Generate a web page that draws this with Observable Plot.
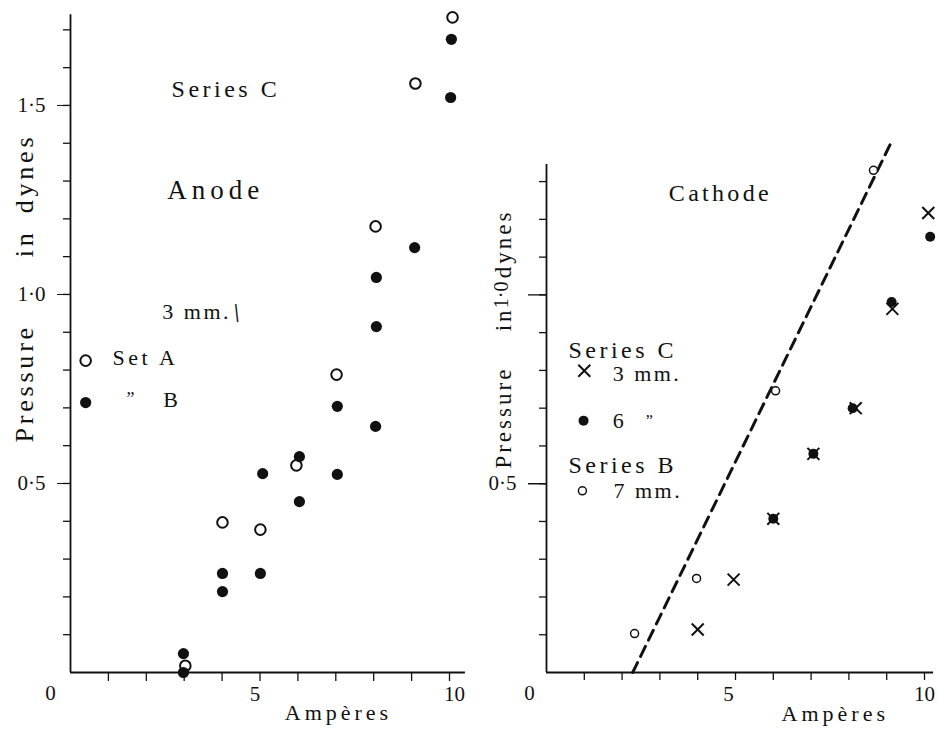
<!DOCTYPE html>
<html><head><meta charset="utf-8">
<script src="https://cdn.jsdelivr.net/npm/d3@7"></script>
<script src="https://cdn.jsdelivr.net/npm/@observablehq/plot@0.6"></script>
<style>
body{margin:0;background:#fff}
#wrap{position:relative;width:938px;height:730px;background:#fff}
#wrap svg{position:absolute;top:0}
</style></head><body><div id="wrap"></div>
<script>
// ---- Anode (Series C, 3 mm) ----
const anodeAmpsA = [10.08, 9.1, 8.05, 7.02, 5.96, 5.01, 4.01, 3.03];
const anodePressA = [1.733, 1.558, 1.18, 0.788, 0.548, 0.378, 0.397, 0.018];
const anodeAmpsB = [10.05, 10.03, 9.08, 8.07, 8.07, 7.04, 8.05, 7.04, 6.04, 6.04, 5.07, 5.01, 4.01, 4.01, 2.98, 2.98];
const anodePressB = [1.675, 1.521, 1.124, 1.045, 0.915, 0.704, 0.651, 0.524, 0.571, 0.452, 0.526, 0.262, 0.262, 0.214, 0.05, 0.0];
// ---- Cathode ----
const cathAmps3mm = [10.1, 9.15, 8.18, 7.06, 6.0, 4.95, 4.0];
const cathPress3mm = [1.217, 0.963, 0.70, 0.579, 0.407, 0.246, 0.114];
const cathAmps6mm = [10.15, 9.13, 8.1, 7.06, 6.0];
const cathPress6mm = [1.154, 0.981, 0.70, 0.579, 0.407];
const cathAmps7mm = [8.65, 6.06, 3.97, 2.33];
const cathPress7mm = [1.33, 0.746, 0.249, 0.103];
const dashAmps = [2.28, 9.1];
const dashPress = [0, 1.40];
// ---- tick labels ----
const xTickLabels = [5, 10];
const anodeYTickLabels = [0.5, 1.0, 1.5];
const cathYTickLabels = [0.5];
const xMinor = d3.range(1, 11);
const anodeYMinor = d3.range(1, 18).map(i => i / 10);
const cathYMinor = d3.range(1, 14).map(i => i / 10);

const ink = "#111";
const font = "'Liberation Serif', 'DejaVu Serif', serif";
const fmt = d => d.toFixed(1).replace(".", "·");
const pts = (xs, ys) => xs.map((x, i) => ({x, y: ys[i]}));

// annotation text (positions in data units, s = font size, ls = letter spacing)
const anodeNotes = [
  {t: "Series C", x: 4.1, y: 1.542, s: 24, ls: 3.5, a: "middle"},
  {t: "Anode", x: 3.83, y: 1.275, s: 27, ls: 5, a: "middle"},
  {t: "3 mm.", x: 3.33, y: 0.955, s: 22, ls: 2.5, a: "middle"},
  {t: "Set A", x: 1.11, y: 0.831, s: 22, ls: 3.5, a: "start"},
  {t: "\u201D", x: 1.58, y: 0.722, s: 18, ls: 0, a: "middle"},
  {t: "B", x: 2.64, y: 0.722, s: 22, ls: 0, a: "middle"},
  {t: "0", x: -0.53, y: -0.056, s: 21, ls: 0, a: "middle"},
  {t: "Ampères", x: 7.07, y: -0.108, s: 22, ls: 4, a: "middle"}
];
const anodeTitle = [
  {t: "Pressure", x: -1.21, y: 0.765},
  {t: "in", x: -1.21, y: 1.135},
  {t: "dynes", x: -1.21, y: 1.32}
];
const cathNotes = [
  {t: "Cathode", x: 4.6, y: 1.27, s: 24, ls: 3.3, a: "middle"},
  {t: "Series C", x: 0.58, y: 0.854, s: 24, ls: 3.5, a: "start"},
  {t: "3 mm.", x: 1.75, y: 0.791, s: 22, ls: 2.5, a: "start"},
  {t: "6", x: 1.9, y: 0.667, s: 22, ls: 0, a: "middle"},
  {t: "\u201D", x: 2.72, y: 0.667, s: 16, ls: 0, a: "middle"},
  {t: "Series B", x: 0.58, y: 0.55, s: 24, ls: 3.5, a: "start"},
  {t: "7 mm.", x: 1.77, y: 0.481, s: 22, ls: 2.5, a: "start"},
  {t: "0", x: -0.45, y: -0.056, s: 21, ls: 0, a: "middle"},
  {t: "Ampères", x: 7.64, y: -0.111, s: 22, ls: 4, a: "middle"}
];
const cathTitle = [
  {t: "Pressure", x: -1.14, y: 0.675},
  {t: "in", x: -1.14, y: 0.935},
  {t: "dynes", x: -1.14, y: 1.135}
];
const cathRotTick = [{t: "1·0", x: -1.2, y: 1.0}];

function notes(arr) {
  return ["start", "middle"].flatMap(a => {
    const d = arr.filter(n => n.a === a);
    return d3.groups(d, n => n.s).map(([s, g]) =>
      Plot.text(g, {x: "x", y: "y", text: "t", fontSize: s, textAnchor: a, fill: ink}));
  });
}
function spacing(svg, arr, titleWords, titleLs) {
  const m = new Map(arr.map(n => [n.t, n.ls]));
  titleWords.forEach(w => m.set(w.t, titleLs));
  d3.select(svg).selectAll("text").each(function () {
    const t = this.textContent;
    if (m.has(t)) this.setAttribute("letter-spacing", m.get(t));
  });
}
const xLabelAxis = (v, dx, size) =>
  Plot.axisX([v], {tickSize: 0, tickPadding: 14, label: null, fontSize: size, dx});

const left = Plot.plot({
  width: 480, height: 730,
  marginLeft: 70, marginRight: 31, marginTop: 18, marginBottom: 58,
  x: {domain: [0, 10]}, y: {domain: [0, 1.73]},
  style: {fontFamily: font, fontSize: "18px", color: ink, background: "transparent", overflow: "visible"},
  marks: [
    Plot.ruleX([0], {y1: 0, y2: 1.74, stroke: ink, strokeWidth: 1.8}),
    Plot.ruleY([0], {x1: 0, x2: 10.42, stroke: ink, strokeWidth: 1.8}),
    Plot.axisY(anodeYMinor, {tickSize: 7, tickFormat: () => "", label: null, strokeWidth: 1.3}),
    Plot.axisY(anodeYTickLabels, {tickSize: 13, tickPadding: 12, tickFormat: fmt, label: null, fontSize: 21}),
    Plot.axisX(xMinor, {tickSize: 9, tickFormat: () => "", label: null, strokeWidth: 1.3}),
    xLabelAxis(xTickLabels[0], -5, 21),
    xLabelAxis(xTickLabels[1], 5, 21),
    Plot.dot(pts(anodeAmpsA, anodePressA), {x: "x", y: "y", r: 5.3, stroke: ink, strokeWidth: 2, fill: "white"}),
    Plot.dot(pts(anodeAmpsB, anodePressB), {x: "x", y: "y", r: 5.6, fill: ink, stroke: "none"}),
    Plot.dot([{x: 0.4, y: 0.825}], {x: "x", y: "y", r: 5.3, stroke: ink, strokeWidth: 2, fill: "white"}),
    Plot.dot([{x: 0.4, y: 0.714}], {x: "x", y: "y", r: 5.6, fill: ink}),
    ...notes(anodeNotes),
    Plot.text([{t: "|", x: 4.38, y: 0.955}], {x: "x", y: "y", text: "t", fontSize: 20, fontWeight: "bold", rotate: -6, fill: ink}),
    Plot.text(anodeTitle, {x: "x", y: "y", text: "t", rotate: -90, fontSize: 26, fill: ink})
  ]
});
spacing(left, anodeNotes, anodeTitle, 3.8);

const right = Plot.plot({
  width: 458, height: 730,
  marginLeft: 66, marginRight: 14, marginTop: 166, marginBottom: 58,
  x: {domain: [0, 10]}, y: {domain: [0, 1.34]},
  style: {fontFamily: font, fontSize: "18px", color: ink, background: "transparent", overflow: "visible"},
  marks: [
    Plot.ruleX([0], {y1: 0, y2: 1.345, stroke: ink, strokeWidth: 1.8}),
    Plot.ruleY([0], {x1: 0, x2: 10.24, stroke: ink, strokeWidth: 1.8}),
    Plot.axisY(cathYMinor, {tickSize: 7, tickFormat: () => "", label: null, strokeWidth: 1.3}),
    Plot.axisY([0.5, 1.0], {tickSize: 18, tickFormat: () => "", label: null, strokeWidth: 1.3}),
    Plot.axisY(cathYTickLabels, {tickSize: 18, tickPadding: 12, tickFormat: fmt, label: null, fontSize: 21}),
    Plot.axisX(xMinor, {tickSize: 8, tickFormat: () => "", label: null, strokeWidth: 1.3}),
    xLabelAxis(xTickLabels[0], -7, 21),
    xLabelAxis(xTickLabels[1], 0, 21),
    Plot.line(pts(dashAmps, dashPress), {x: "x", y: "y", stroke: ink, strokeWidth: 3, strokeDasharray: "11,7"}),
    Plot.dot(pts(cathAmps6mm, cathPress6mm), {x: "x", y: "y", r: 5, fill: ink}),
    Plot.dot(pts(cathAmps3mm, cathPress3mm), {x: "x", y: "y", r: 5.5, symbol: "times", stroke: ink, strokeWidth: 2}),
    Plot.dot(pts(cathAmps7mm, cathPress7mm), {x: "x", y: "y", r: 4, stroke: ink, strokeWidth: 1.5, fill: "white"}),
    Plot.dot([{x: 1.0, y: 0.799}], {x: "x", y: "y", r: 5.5, symbol: "times", stroke: ink, strokeWidth: 2}),
    Plot.dot([{x: 0.98, y: 0.667}], {x: "x", y: "y", r: 5, fill: ink}),
    Plot.dot([{x: 0.95, y: 0.481}], {x: "x", y: "y", r: 4, stroke: ink, strokeWidth: 1.5, fill: "white"}),
    ...notes(cathNotes),
    Plot.text(cathTitle, {x: "x", y: "y", text: "t", rotate: -90, fontSize: 23, fill: ink}),
    Plot.text(cathRotTick, {x: "x", y: "y", text: "t", rotate: -90, fontSize: 20, fill: ink})
  ]
});
spacing(right, cathNotes, cathTitle, 3);

const wrap = document.getElementById("wrap");
left.style.left = "0px";
right.style.left = "480px";
wrap.appendChild(left);
wrap.appendChild(right);
</script>
</body></html>
